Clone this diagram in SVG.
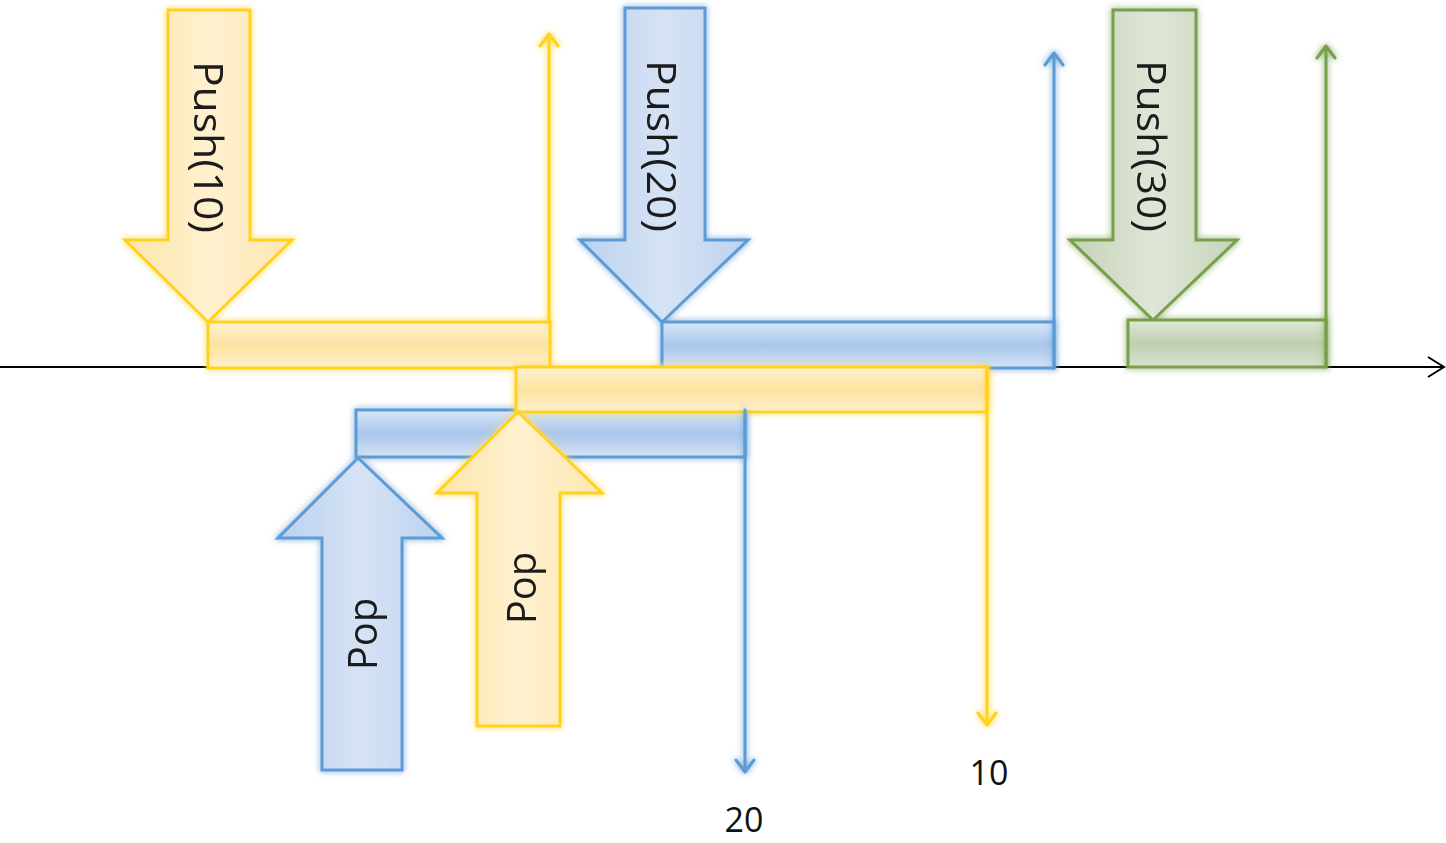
<svg xmlns="http://www.w3.org/2000/svg" width="1446" height="843" viewBox="0 0 1446 843">
<defs>
  <linearGradient id="gYa" x1="0" y1="0" x2="1" y2="0"><stop offset="0" stop-color="#fde6a8"/><stop offset="0.5" stop-color="#fff0cf"/><stop offset="1" stop-color="#fde7b0"/></linearGradient>
  <linearGradient id="gBa" x1="0" y1="0" x2="1" y2="0"><stop offset="0" stop-color="#b9d1ef"/><stop offset="0.5" stop-color="#d6e3f5"/><stop offset="1" stop-color="#bcd2ee"/></linearGradient>
  <linearGradient id="gGa" x1="0" y1="0" x2="1" y2="0"><stop offset="0" stop-color="#c4d2b8"/><stop offset="0.5" stop-color="#dfe6d7"/><stop offset="1" stop-color="#c6d4b9"/></linearGradient>
  <linearGradient id="gYb" x1="0" y1="0" x2="0" y2="1"><stop offset="0" stop-color="#fff2d2"/><stop offset="0.5" stop-color="#fde2a0"/><stop offset="1" stop-color="#fff0cc"/></linearGradient>
  <linearGradient id="gBb" x1="0" y1="0" x2="0" y2="1"><stop offset="0" stop-color="#d8e6f7"/><stop offset="0.5" stop-color="#aac7ec"/><stop offset="1" stop-color="#d3e2f5"/></linearGradient>
  <linearGradient id="gGb" x1="0" y1="0" x2="0" y2="1"><stop offset="0" stop-color="#dfe7d6"/><stop offset="0.5" stop-color="#bfcfb1"/><stop offset="1" stop-color="#d9e2cf"/></linearGradient>
  <filter id="glow" x="-20%" y="-20%" width="140%" height="140%">
    <feGaussianBlur in="SourceGraphic" stdDeviation="3" result="b"/>
    <feMerge><feMergeNode in="b"/><feMergeNode in="SourceGraphic"/></feMerge>
  </filter>
</defs>
<style>
  .y { stroke: #ffd21f; stroke-width: 3; }
  .b { stroke: #5b9bd5; stroke-width: 3; }
  .g { stroke: #77a04a; stroke-width: 3; }
  .ln { fill: none; stroke-linecap: round; stroke-linejoin: round; }
  .lbl { font-family: "Open Sans", "Liberation Sans", sans-serif; font-size: 40px; fill: #1a1a1a; text-anchor: middle; dominant-baseline: central; }
  .num { font-family: "Open Sans", "Liberation Sans", sans-serif; font-size: 34px; fill: #111; text-anchor: middle; }
  .axis { stroke: #000; stroke-width: 2; fill: none; }
</style>

<g id="axis">
  <line class="axis" x1="0" y1="367" x2="1444" y2="367"/>
  <polyline class="axis" points="1428,357 1444,367 1428,377"/>
</g>

<g id="push10" filter="url(#glow)">
  <polygon class="y" fill="url(#gYa)" points="168,10 250,10 250,240 292,240 208,322 125,240 168,240"/>
  <rect class="y" fill="url(#gYb)" x="208" y="322" width="342" height="46"/>
  <text class="lbl" transform="translate(209,147) rotate(90)" textLength="172" lengthAdjust="spacingAndGlyphs">Push(10)</text>
</g>

<g id="push20" filter="url(#glow)">
  <polygon class="b" fill="url(#gBa)" points="625,8 705,8 705,240 748,240 662,322 580,240 625,240"/>
  <rect class="b" fill="url(#gBb)" x="662" y="322" width="392" height="46"/>
  <text class="lbl" transform="translate(662,146) rotate(90)" textLength="172" lengthAdjust="spacingAndGlyphs">Push(20)</text>
</g>

<g id="push30" filter="url(#glow)">
  <polygon class="g" fill="url(#gGa)" points="1113,10 1196,10 1196,240 1237,240 1153,320 1070,240 1113,240"/>
  <rect class="g" fill="url(#gGb)" x="1128" y="320" width="198" height="47"/>
  <text class="lbl" transform="translate(1152,146) rotate(90)" textLength="172" lengthAdjust="spacingAndGlyphs">Push(30)</text>
</g>

<g id="pop20bar" filter="url(#glow)">
  <rect class="b" fill="url(#gBb)" x="356" y="410" width="389" height="47"/>
</g>

<g id="pop10bar" filter="url(#glow)">
  <rect class="y" fill="url(#gYb)" x="516" y="367" width="471" height="45"/>
</g>

<g id="connectors" filter="url(#glow)">
  <path class="ln y" d="M549,322 V34 M540,46 L549,34 L558,46"/>
  <path class="ln b" d="M1054,368 V53 M1045,65 L1054,53 L1063,65"/>
  <path class="ln g" d="M1326,367 V46 M1317,58 L1326,46 L1335,58"/>
  <path class="ln y" d="M987,367 V725 M978,713 L987,725 L996,713"/>
  <path class="ln b" d="M745,410 V772 M736,760 L745,772 L754,760"/>
</g>

<g id="popBlue" filter="url(#glow)">
  <polygon class="b" fill="url(#gBa)" points="358,458 442,538 402,538 402,770 322,770 322,538 278,538"/>
  <text class="lbl" transform="translate(361,634) rotate(-90)">Pop</text>
</g>

<g id="popYellow" filter="url(#glow)">
  <polygon class="y" fill="url(#gYa)" points="518,412 602,493 560,493 560,726 477,726 477,493 437,493"/>
  <text class="lbl" transform="translate(520,588) rotate(-90)">Pop</text>
</g>

<g id="labels">
  <text class="num" x="989" y="785">10</text>
  <text class="num" x="744" y="832">20</text>
</g>
</svg>
